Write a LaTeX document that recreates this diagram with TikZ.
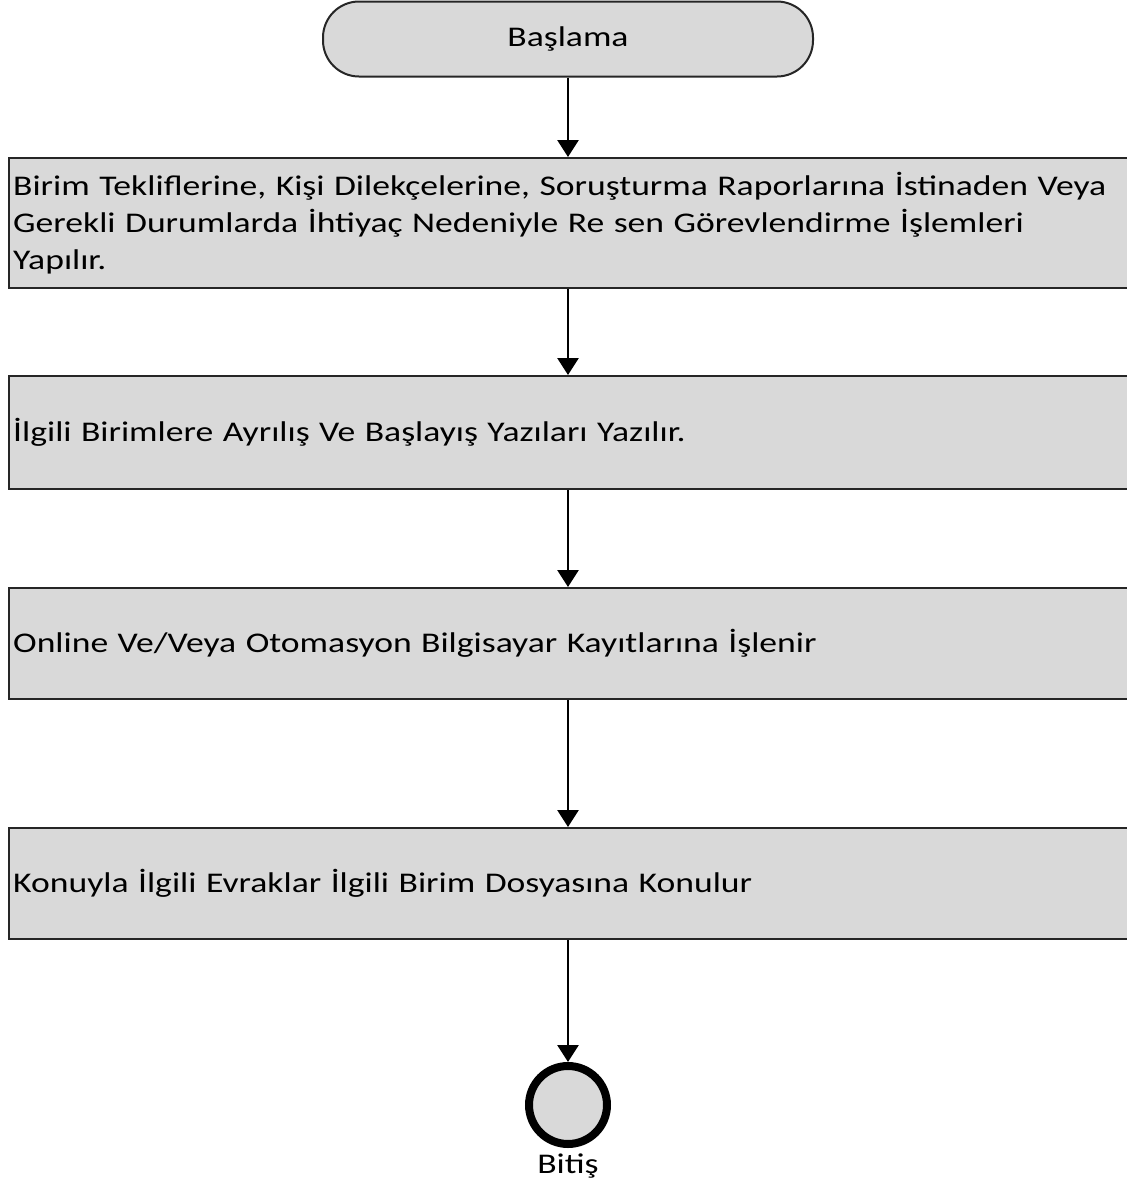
\documentclass[tikz,border=0pt]{standalone}
\usepackage{fontspec}
\setmainfont[FakeStretch=1.25]{Carlito}
\usetikzlibrary{arrows.meta}
\definecolor{boxgray}{HTML}{D9D9D9}
\begin{document}
\begin{tikzpicture}[x=1pt,y=-1pt,
  every node/.style={font=\fontsize{28.5}{37}\selectfont},
  startbox/.style={draw=black!85,line width=2pt,fill=boxgray,rounded corners=36pt,minimum width=490pt,minimum height=75pt},
  procbox/.style={draw=black!85,line width=2.4pt,fill=boxgray,anchor=north west,minimum width=1130pt,text width=1122pt,align=left,inner xsep=2pt,inner ysep=4pt},
  endnode/.style={circle,draw=black,line width=8pt,fill=boxgray,minimum size=78pt,inner sep=0pt},
  flow/.style={line width=2.8pt,-{Triangle[width=21pt,length=17pt]}}]
\clip (0,0) rectangle (1127,1187);
\node[startbox] (start) at (568,39) {Başlama};
\node[procbox,minimum height=130pt] (s1) at (8,157) {Birim Tekliflerine, Kişi Dilekçelerine, Soruşturma Raporlarına İstinaden Veya\\Gerekli Durumlarda İhtiyaç Nedeniyle Re sen Görevlendirme İşlemleri\\Yapılır.};
\node[procbox,minimum height=113pt] (s2) at (8,375) {İlgili Birimlere Ayrılış Ve Başlayış Yazıları Yazılır.};
\node[procbox,minimum height=111pt] (s3) at (8,587) {Online Ve/Veya Otomasyon Bilgisayar Kayıtlarına İşlenir};
\node[procbox,minimum height=111pt] (s4) at (8,827) {Konuyla İlgili Evraklar İlgili Birim Dosyasına Konulur};
\node[endnode] (end) at (568,1105) {};
\node[anchor=north,inner sep=0pt] (endlabel) at ([yshift=-6pt]end.south) {Bitiş};
\draw[flow] (start.south) -- (start.south |- s1.north);
\draw[flow] (start.south |- s1.south) -- (start.south |- s2.north);
\draw[flow] (start.south |- s2.south) -- (start.south |- s3.north);
\draw[flow] (start.south |- s3.south) -- (start.south |- s4.north);
\draw[flow] (start.south |- s4.south) -- (end.north);
\end{tikzpicture}
\end{document}
